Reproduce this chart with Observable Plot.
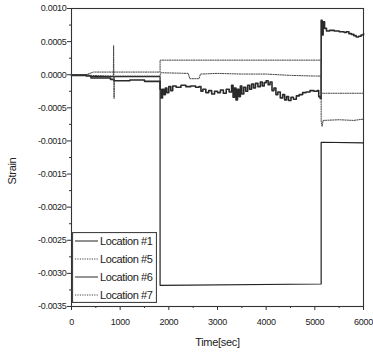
<!DOCTYPE html>
<html><head><meta charset="utf-8">
<script src="https://cdn.jsdelivr.net/npm/d3@7"></script>
<script src="https://cdn.jsdelivr.net/npm/@observablehq/plot@0.6"></script>
<style>
body{margin:0;background:#fff;}
#wrap{position:relative;width:373px;height:356px;font-family:"Liberation Sans",Arial,sans-serif;}
#legend{position:absolute;left:72px;top:232px;}
</style></head><body><div id="wrap"></div>
<script>
// ---- data ----
const seriesNames = ["Location #1", "Location #5", "Location #6", "Location #7"];

const t1 = [0, 300, 450, 1820, 1820, 5130, 5130, 6000];
const s1 = [0, 0, -0.00003, -0.00003, -0.00318, -0.00316, -0.00102, -0.00103];

const t5 = [0, 300, 450, 1820, 1820, 5130, 5130, 6000];
const s5 = [0, 0, 0.00004, 0.00004, 0.00022, 0.00022, -0.00028, -0.00028];

const t6 = [0, 300, 400, 800, 870, 1200, 1500, 1815, 1820, 1840, 1870, 1900, 1930, 1960, 2000, 2040, 2080, 2150, 2250, 2350, 2450, 2550, 2620, 2660, 2700, 2760, 2820, 2880, 2940, 3000, 3060, 3120, 3180, 3240, 3290, 3320, 3350, 3380, 3410, 3440, 3470, 3500, 3540, 3580, 3620, 3660, 3700, 3740, 3780, 3830, 3880, 3920, 3960, 4000, 4040, 4080, 4120, 4160, 4200, 4240, 4290, 4340, 4380, 4420, 4460, 4510, 4560, 4620, 4680, 4750, 4820, 4900, 4980, 5050, 5080, 5110, 5130, 5130, 5150, 5170, 5200, 5240, 5300, 5400, 5500, 5600, 5650, 5700, 5750, 5800, 5850, 5900, 5950, 6000];
const s6 = [-0.00001, -0.00002, -0.00005, -0.00007, -0.00009, -0.00008, -0.0001, -0.0001, -0.00022, -0.00035, -0.00022, -0.0003, -0.0002, -0.00027, -0.00018, -0.00024, -0.00017, -0.00019, -0.00016, -0.00018, -0.00017, -0.00019, -0.00018, -0.00025, -0.00022, -0.00027, -0.00024, -0.00029, -0.00025, -0.00027, -0.00023, -0.00028, -0.00022, -0.00026, -0.00016, -0.00034, -0.0002, -0.00038, -0.00022, -0.00033, -0.00017, -0.00029, -0.00019, -0.00025, -0.00016, -0.00022, -0.00014, -0.0002, -0.00013, -0.00018, -0.00011, -0.00017, -0.00012, -0.00009, -0.00015, -0.00011, -0.00024, -0.0002, -0.0003, -0.00026, -0.00035, -0.0003, -0.00038, -0.00033, -0.00039, -0.00034, -0.00037, -0.00032, -0.0003, -0.00027, -0.00026, -0.00024, -0.00025, -0.00024, -0.00033, -0.00036, -0.0003, 0.00082, 0.0006, 0.0008, 0.0007, 0.00066, 0.00067, 0.00066, 0.00065, 0.00064, 0.00065, 0.00062, 0.00061, 0.00059, 0.00057, 0.00058, 0.0006, 0.00062];

const t7 = [0, 300, 400, 860, 865, 875, 880, 1820, 1830, 2400, 2430, 2620, 2650, 3000, 3500, 4000, 4500, 5000, 5100, 5130, 5130, 5150, 5170, 5500, 5800, 6000];
const s7 = [0, 0, -0.00001, -0.00002, 0.00044, -0.00036, -0.00002, -0.00002, 0.00003, 0.00002, -0.00006, -0.00006, 0.00001, 0.00002, 0.00001, 0.00001, -0.00001, -0.00002, -0.00002, -0.00001, -0.0007, -0.00078, -0.00069, -0.00068, -0.00069, -0.00067];

const xTicks = [0, 1000, 2000, 3000, 4000, 5000, 6000];
const xMinor = [500, 1500, 2500, 3500, 4500, 5500];
const yTicks = [0.001, 0.0005, 0, -0.0005, -0.001, -0.0015, -0.002, -0.0025, -0.003, -0.0035];
const yMinor = [0.00075, 0.00025, -0.00025, -0.00075, -0.00125, -0.00175, -0.00225, -0.00275, -0.00325];

const styles = {
  "Location #1": {stroke: "#222", width: 1.2, dash: null, curve: "linear"},
  "Location #5": {stroke: "#444", width: 1, dash: "1.2,1.2", curve: "linear"},
  "Location #6": {stroke: "#2a2a2a", width: 1.6, dash: null, curve: "step-after"},
  "Location #7": {stroke: "#444", width: 1, dash: "1.2,1.2", curve: "linear"}
};

const toRows = (ts, ss) => ts.map((t, i) => ({t, s: ss[i]}));
const rows = {
  "Location #1": toRows(t1, s1),
  "Location #5": toRows(t5, s5),
  "Location #6": toRows(t6, s6),
  "Location #7": toRows(t7, s7)
};

const fmtY = d => (d < 0 ? "-" : "") + Math.abs(d).toFixed(4);

const lineMarks = ["Location #1", "Location #6", "Location #5", "Location #7"].map(n =>
  Plot.line(rows[n], {x: "t", y: "s", stroke: styles[n].stroke, strokeWidth: styles[n].width,
    strokeDasharray: styles[n].dash, curve: styles[n].curve}));

const chart = Plot.plot({
  width: 373, height: 356,
  marginLeft: 71, marginRight: 10, marginTop: 8, marginBottom: 50,
  style: {fontFamily: "'Liberation Sans', Arial, sans-serif", color: "#222", background: "#fff"},
  x: {domain: [0, 6000]},
  y: {domain: [-0.0035, 0.001]},
  marks: [
    Plot.frame({stroke: "#333", strokeWidth: 1.1}),
    ...lineMarks,
    Plot.axisX(xTicks, {tickSize: 4, tickPadding: 8, fontSize: 9, tickFormat: d => String(d), label: null, stroke: "#333", fill: "#222"}),
    Plot.axisX(xMinor, {tickSize: 2, text: null, label: null, stroke: "#333"}),
    Plot.axisY(yTicks, {tickSize: 4, tickPadding: 1, fontSize: 9, tickFormat: fmtY, label: null, stroke: "#333", fill: "#222"}),
    Plot.axisY(yMinor, {tickSize: 2, text: null, label: null, stroke: "#333"}),
    Plot.text(["Time[sec]"], {frameAnchor: "bottom", dy: 39, fontSize: 11, fill: "#222"}),
    Plot.text(["Strain"], {frameAnchor: "left", dx: -59, dy: 27, rotate: -90, fontSize: 11, fill: "#222"})
  ]
});

const wrap = document.getElementById("wrap");
wrap.appendChild(chart);
chart.querySelectorAll("text").forEach(t => t.style.letterSpacing = "-0.3px");

// legend overlay
const lw = 85, lh = 71;
const lg = d3.create("svg").attr("id", "legend").attr("width", lw).attr("height", lh);
lg.append("rect").attr("x", 0.5).attr("y", 0.5).attr("width", lw - 1).attr("height", lh - 1)
  .attr("fill", "#fff").attr("stroke", "#444").attr("stroke-width", 1.2);
seriesNames.forEach((n, i) => {
  const cy = 9 + i * 18;
  lg.append("line").attr("x1", 3).attr("x2", 26).attr("y1", cy).attr("y2", cy)
    .attr("stroke", styles[n].stroke).attr("stroke-width", 1).attr("stroke-dasharray", styles[n].dash);
  lg.append("text").attr("x", 28).attr("y", cy).attr("dy", "0.35em")
    .attr("font-size", 11).attr("fill", "#222").attr("letter-spacing", "-0.4px")
    .attr("font-family", "'Liberation Sans', Arial, sans-serif").text(n);
});
wrap.appendChild(lg.node());
</script></body></html>
